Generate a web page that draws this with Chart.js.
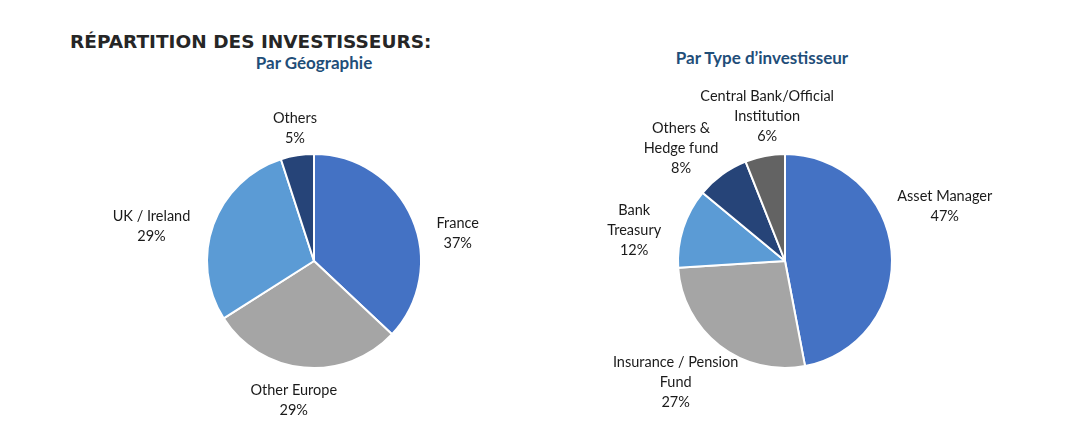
<!DOCTYPE html>
<html>
<head>
<meta charset="utf-8">
<script src="https://cdn.jsdelivr.net/npm/chart.js@4/dist/chart.umd.min.js"></script>
<style>
  body { margin: 0; width: 1080px; height: 432px; background: #fff; position: relative; overflow: hidden; font-family: Lato, "Noto Sans", sans-serif; }
  .title { position: absolute; left: 70px; top: 31px; font-family: "DejaVu Sans", sans-serif; font-weight: bold; font-size: 18.5px; letter-spacing: 0px; color: #262626; }
  .sub { position: absolute; font-weight: bold; font-size: 17px; color: #1F4E79; transform: translateX(-50%); white-space: nowrap; }
  .wrap { position: absolute; }
</style>
</head>
<body>
<div class="title">RÉPARTITION DES INVESTISSEURS:</div>
<div class="sub" style="left:314px;top:52px">Par Géographie</div>
<div class="sub" style="left:762px;top:47px">Par Type d’investisseur</div>
<div class="wrap" style="left:100px;top:80px;width:430px;height:352px"><canvas id="geoChart"></canvas></div>
<div class="wrap" style="left:570px;top:80px;width:510px;height:352px"><canvas id="typeChart"></canvas></div>
<script>
// ---- data ----
const geoLabels = [['France'], ['Other Europe'], ['UK / Ireland'], ['Others']];
const geoValues = [37, 29, 29, 5];
const geoColors = ['#4472C4', '#A5A5A5', '#5B9BD5', '#264478'];

const typeLabels = [['Asset Manager'], ['Insurance / Pension', 'Fund'], ['Bank', 'Treasury'], ['Others &', 'Hedge fund'], ['Central Bank/Official', 'Institution']];
const typeValues = [47, 27, 12, 8, 6];
const typeColors = ['#4472C4', '#A5A5A5', '#5B9BD5', '#264478', '#636363'];

// small label nudges (Excel "best fit" placement)
const geoNudge = { 0: [15, 28], 1: [-5, 1], 2: [-14, 12], 3: [3, 5] };
const typeNudge = { 0: [-6, -42], 1: [2, 4], 2: [-12, 15], 3: [-12, 8], 4: [17, 2] };

const outsideLabels = {
  id: 'outsideLabels',
  afterDatasetsDraw(chart, args, opts) {
    const ctx = chart.ctx;
    const meta = chart.getDatasetMeta(0);
    const lbls = chart.data.labels;
    const vals = chart.data.datasets[0].data;
    ctx.save();
    ctx.font = '14.5px Lato, "Noto Sans", sans-serif';
    ctx.fillStyle = '#1a1a1a';
    ctx.textAlign = 'center';
    ctx.textBaseline = 'middle';
    const lh = 20;
    meta.data.forEach((arc, i) => {
      const mid = (arc.startAngle + arc.endAngle) / 2;
      const lines = lbls[i].concat([vals[i] + '%']);
      let hw = 0;
      lines.forEach(l => { hw = Math.max(hw, ctx.measureText(l).width / 2); });
      const hh = lines.length * lh / 2;
      const r = arc.outerRadius + 12;
      let cx = arc.x + Math.cos(mid) * r + Math.cos(mid) * hw;
      let cy = arc.y + Math.sin(mid) * r + Math.sin(mid) * hh;
      const n = (opts.nudge || {})[i];
      if (n) { cx += n[0]; cy += n[1]; }
      lines.forEach((l, k) => {
        ctx.fillText(l, cx, cy - hh + lh / 2 + k * lh);
      });
    });
    ctx.restore();
  }
};

function makePie(id, labels, values, colors, padding, nudge) {
  new Chart(document.getElementById(id), {
    type: 'pie',
    data: {
      labels: labels,
      datasets: [{ data: values, backgroundColor: colors, borderColor: '#ffffff', borderWidth: 2 }]
    },
    options: {
      responsive: true, maintainAspectRatio: false, animation: false,
      layout: { padding: padding },
      plugins: { legend: { display: false }, tooltip: { enabled: false }, outsideLabels: { nudge: nudge } }
    },
    plugins: [outsideLabels]
  });
}

makePie('geoChart', geoLabels, geoValues, geoColors, { left: 106, right: 108, top: 73, bottom: 63 }, geoNudge);
makePie('typeChart', typeLabels, typeValues, typeColors, { left: 107, right: 187, top: 73, bottom: 63 }, typeNudge);
</script>
</body>
</html>
